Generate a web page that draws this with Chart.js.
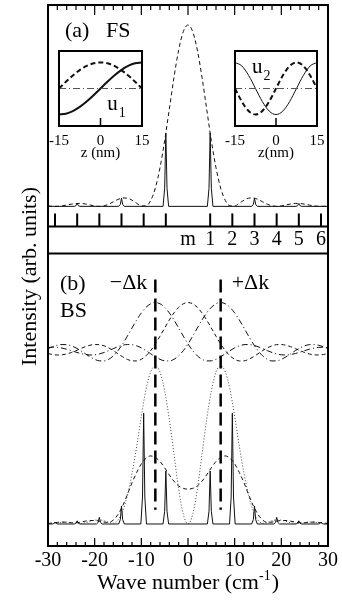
<!DOCTYPE html>
<html>
<head>
<meta charset="utf-8">
<script src="https://cdn.jsdelivr.net/npm/chart.js@4.4.1/dist/chart.umd.min.js"></script>
<style>
  html, body { margin: 0; padding: 0; background: #fff; }
  #wrap { position: relative; width: 342px; height: 606px; }
  #wrap canvas { position: absolute; }
  #mainChart { left: 0; top: 0; }
  #insetU1 { left: 30px; top: 40px; }
  #insetU2 { left: 206px; top: 40px; }
</style>
</head>
<body>
<div id="wrap">
  <canvas id="mainChart" width="342" height="606"></canvas>
  <canvas id="insetU1" width="130" height="125"></canvas>
  <canvas id="insetU2" width="130" height="125"></canvas>
</div>
<script>
// wave number grid (cm^-1)
const waveNumber = [-30, -29, -28, -27, -26, -25, -24, -23, -22, -21, -20, -19, -18, -17, -16, -15,
  -14, -13, -12, -11, -10, -9, -8, -7, -6, -5, -4, -3, -2, -1, 0, 1, 2, 3, 4, 5, 6, 7, 8, 9, 10,
  11, 12, 13, 14, 15, 16, 17, 18, 19, 20, 21, 22, 23, 24, 25, 26, 27, 28, 29, 30];

// (a) FS: envelope and mode lines
const fsEnvelope = [0.0023, 0.0003, 0.0003, 0.0028, 0.0073, 0.0123, 0.0158, 0.0163, 0.0133, 0.0078,
  0.0024, 0.0000, 0.0030, 0.0119, 0.0250, 0.0382, 0.0463, 0.0454, 0.0344, 0.0172, 0.0025, 0.0030,
  0.0324, 0.101, 0.213, 0.363, 0.537, 0.712, 0.862, 0.964, 1.000, 0.964, 0.862, 0.712, 0.537, 0.363,
  0.213, 0.101, 0.0324, 0.0030, 0.0025, 0.0172, 0.0344, 0.0454, 0.0463, 0.0382, 0.0250, 0.0119,
  0.0030, 0.0000, 0.0024, 0.0078, 0.0133, 0.0163, 0.0158, 0.0123, 0.0073, 0.0028, 0.0003, 0.0003, 0.0023];
const fsSpikeX = [-30, -24.35, -24.0, -23.75, -23.5, -23.15, -14.85, -14.5, -14.25, -14.0, -13.65,
  -5.35, -5.0, -4.75, -4.5, -4.15, 4.15, 4.5, 4.75, 5.0, 5.35, 13.65, 14.0, 14.25, 14.5, 14.85,
  23.15, 23.5, 23.75, 24.0, 24.35, 30];
const fsSpikeY = [0, 0, 0.004, 0.016, 0.004, 0, 0, 0.011, 0.045, 0.011, 0, 0, 0.10, 0.405, 0.10, 0,
  0, 0.10, 0.405, 0.10, 0, 0, 0.011, 0.045, 0.011, 0, 0, 0.004, 0.016, 0.004, 0, 0];

// mode ticks and their labels
const modeK = [-28.5, -23.75, -19, -14.25, -9.5, -4.75, 4.75, 9.5, 14.25, 19, 23.75, 28.5];
const modeLabelK = [0, 4.75, 9.5, 14.25, 19, 23.75, 28.5];
const modeLabels = ['m', '1', '2', '3', '4', '5', '6'];

// (b) BS: field amplitudes around -dk, 0, +dk
const bsLeft = [0.042, 0.082, 0.112, 0.127, 0.124, 0.100, 0.057, 0.000, -0.065, -0.129, -0.181,
  -0.212, -0.214, -0.180, -0.108, 0.000, 0.139, 0.300, 0.470, 0.637, 0.784, 0.900, 0.974, 1.000,
  0.974, 0.900, 0.784, 0.637, 0.470, 0.300, 0.139, 0.000, -0.108, -0.180, -0.214, -0.212, -0.181,
  -0.129, -0.065, 0.000, 0.057, 0.100, 0.124, 0.127, 0.112, 0.082, 0.042, 0.000, -0.039, -0.069,
  -0.087, -0.091, -0.081, -0.060, -0.031, 0.000, 0.030, 0.053, 0.067, 0.071, 0.064];
const bsCenter = [-0.060, -0.081, -0.091, -0.087, -0.069, -0.039, 0.000, 0.042, 0.082, 0.112, 0.127,
  0.124, 0.100, 0.057, 0.000, -0.065, -0.129, -0.181, -0.212, -0.214, -0.180, -0.108, 0.000, 0.139,
  0.300, 0.470, 0.637, 0.784, 0.900, 0.974, 1.000, 0.974, 0.900, 0.784, 0.637, 0.470, 0.300, 0.139,
  0.000, -0.108, -0.180, -0.214, -0.212, -0.181, -0.129, -0.065, 0.000, 0.057, 0.100, 0.124, 0.127,
  0.112, 0.082, 0.042, 0.000, -0.039, -0.069, -0.087, -0.091, -0.081, -0.060];
const bsRight = [0.064, 0.071, 0.067, 0.053, 0.030, 0.000, -0.031, -0.060, -0.081, -0.091, -0.087,
  -0.069, -0.039, 0.000, 0.042, 0.082, 0.112, 0.127, 0.124, 0.100, 0.057, 0.000, -0.065, -0.129,
  -0.181, -0.212, -0.214, -0.180, -0.108, 0.000, 0.139, 0.300, 0.470, 0.637, 0.784, 0.900, 0.974,
  1.000, 0.974, 0.900, 0.784, 0.637, 0.470, 0.300, 0.139, 0.000, -0.108, -0.180, -0.214, -0.212,
  -0.181, -0.129, -0.065, 0.000, 0.057, 0.100, 0.124, 0.127, 0.112, 0.082, 0.042];

// (b) BS: intensities
const bsDotted = [0.001, 0.003, 0.007, 0.011, 0.012, 0.009, 0.005, 0.003, 0.008, 0.016, 0.024, 0.026,
  0.020, 0.010, 0.004, 0.025, 0.08, 0.18, 0.32, 0.49, 0.68, 0.85, 0.96, 1.00, 0.96, 0.84, 0.66, 0.44,
  0.22, 0.06, 0, 0.06, 0.22, 0.44, 0.66, 0.84, 0.96, 1.00, 0.96, 0.85, 0.68, 0.49, 0.32, 0.18, 0.08,
  0.025, 0.004, 0.010, 0.020, 0.026, 0.024, 0.016, 0.008, 0.003, 0.005, 0.009, 0.012, 0.011, 0.007,
  0.003, 0.001];
const bsDashed = [0.004, 0.006, 0.010, 0.012, 0.011, 0.008, 0.008, 0.012, 0.018, 0.022, 0.022, 0.018,
  0.012, 0.010, 0.025, 0.06, 0.115, 0.185, 0.26, 0.325, 0.38, 0.415, 0.43, 0.42, 0.395, 0.355, 0.31,
  0.27, 0.24, 0.225, 0.22, 0.225, 0.24, 0.27, 0.31, 0.355, 0.395, 0.42, 0.43, 0.415, 0.38, 0.325, 0.26,
  0.185, 0.115, 0.06, 0.025, 0.010, 0.012, 0.018, 0.022, 0.022, 0.018, 0.012, 0.008, 0.008, 0.011,
  0.012, 0.010, 0.006, 0.004];
const bsSpikeX = [-30, -29.1, -28.75, -28.5, -28.25, -27.9, -24.35, -24.0, -23.75, -23.5, -23.15,
  -19.6, -19.25, -19.0, -18.75, -18.4, -14.85, -14.5, -14.25, -14.0, -13.65, -10.1, -9.75, -9.5,
  -9.25, -8.9, -5.35, -5.0, -4.75, -4.5, -4.15, 4.15, 4.5, 4.75, 5.0, 5.35, 8.9, 9.25, 9.5, 9.75,
  10.1, 13.65, 14.0, 14.25, 14.5, 14.85, 18.4, 18.75, 19.0, 19.25, 19.6, 23.15, 23.5, 23.75, 24.0,
  24.35, 27.9, 28.25, 28.5, 28.75, 29.1, 30];
const bsSpikeY = [0, 0, 0.003, 0.012, 0.003, 0, 0, 0.005, 0.02, 0.005, 0, 0, 0.01, 0.042, 0.01, 0,
  0, 0.028, 0.114, 0.028, 0, 0, 0.17, 0.70, 0.17, 0, 0, 0.08, 0.335, 0.08, 0, 0, 0.08, 0.335, 0.08, 0,
  0, 0.17, 0.70, 0.17, 0, 0, 0.028, 0.114, 0.028, 0, 0, 0.01, 0.042, 0.01, 0, 0, 0.005, 0.02, 0.005, 0,
  0, 0.003, 0.012, 0.003, 0, 0];
const deltaK = 7;

// insets: mode profiles across the well
const insetZ = [-15, -12.5, -10, -7.5, -5, -2.5, 0, 2.5, 5, 7.5, 10, 12.5, 15];
const u1Solid = [-1, -0.966, -0.866, -0.707, -0.5, -0.259, 0, 0.259, 0.5, 0.707, 0.866, 0.966, 1];
const u1Dashed = [0, 0.259, 0.5, 0.707, 0.866, 0.966, 1, 0.966, 0.866, 0.707, 0.5, 0.259, 0];
const u2Solid = [1, 0.866, 0.5, 0, -0.5, -0.866, -1, -0.866, -0.5, 0, 0.5, 0.866, 1];
const u2Dashed = [0, -0.5, -0.866, -1, -0.866, -0.5, 0, 0.5, 0.866, 1, 0.866, 0.5, 0];

const serif = "'Liberation Serif', 'Times New Roman', Times, serif";
Chart.defaults.font.family = serif;
Chart.defaults.color = '#000';

const pts = (xs, ys) => xs.map((x, i) => ({ x: x, y: ys[i] }));

function curve(label, xs, ys, axis, dash, extra) {
  return Object.assign({
    label: label,
    data: pts(xs, ys),
    yAxisID: axis,
    borderColor: '#111',
    borderWidth: 1,
    borderDash: dash,
    pointRadius: 0,
    fill: false,
    cubicInterpolationMode: 'monotone'
  }, extra || {});
}
const straight = { cubicInterpolationMode: 'default', tension: 0 };

// frame, inner ticks, mode band and all the text of the main plot
const framePlugin = {
  id: 'frame',
  afterDraw(chart) {
    const { ctx, chartArea: area, scales } = chart;
    const x = scales.x, yA = scales.yA, band = scales.yBand;
    ctx.save();
    ctx.strokeStyle = '#000';
    ctx.fillStyle = '#000';

    ctx.lineWidth = 1.2;
    x.ticks.forEach(t => {
      const px = x.getPixelForValue(t.value);
      const major = t.value % 10 === 0;
      ctx.beginPath();
      ctx.moveTo(px, area.top);
      ctx.lineTo(px, area.top + (major ? 10 : 5));
      ctx.moveTo(px, area.bottom);
      ctx.lineTo(px, area.bottom - (major ? 8 : 4));
      ctx.stroke();
    });

    ctx.lineWidth = 2;
    modeK.forEach(k => {
      const px = x.getPixelForValue(k);
      ctx.beginPath();
      ctx.moveTo(px, yA.bottom);
      ctx.lineTo(px, yA.bottom - 13);
      ctx.stroke();
    });

    ctx.strokeRect(area.left, area.top, area.right - area.left, area.bottom - area.top);
    [band.top, band.bottom].forEach(y => {
      ctx.beginPath();
      ctx.moveTo(area.left, y);
      ctx.lineTo(area.right, y);
      ctx.stroke();
    });

    ctx.font = '20px ' + serif;
    ctx.textAlign = 'center';
    ctx.textBaseline = 'middle';
    const bandMid = (band.top + band.bottom) / 2;
    modeLabelK.forEach((k, i) => ctx.fillText(modeLabels[i], x.getPixelForValue(k), bandMid));

    ctx.font = '22px ' + serif;
    ctx.textAlign = 'left';
    ctx.fillText('(a)', area.left + 17, area.top + 26);
    ctx.fillText('FS', area.left + 58, area.top + 26);
    ctx.fillText('(b)', area.left + 12, band.bottom + 31);
    ctx.fillText('BS', area.left + 12, band.bottom + 58);
    ctx.textAlign = 'right';
    ctx.fillText('\u2212\u0394k', x.getPixelForValue(-deltaK) - 8, band.bottom + 30);
    ctx.textAlign = 'left';
    ctx.fillText('+\u0394k', x.getPixelForValue(deltaK) + 11, band.bottom + 30);

    // axis titles
    ctx.textBaseline = 'alphabetic';
    ctx.font = '22px ' + serif;
    const main = 'Wave number (cm';
    const wMain = ctx.measureText(main).width;
    ctx.font = '14px ' + serif;
    const wSup = ctx.measureText('-1').width;
    ctx.font = '22px ' + serif;
    const wEnd = ctx.measureText(')').width;
    const cx = (area.left + area.right) / 2;
    let tx = cx - (wMain + wSup + 1 + wEnd) / 2;
    const ty = area.bottom + 43;
    ctx.fillText(main, tx, ty);
    tx += wMain;
    ctx.font = '14px ' + serif;
    ctx.fillText('-1', tx, ty - 9);
    tx += wSup + 1;
    ctx.font = '22px ' + serif;
    ctx.fillText(')', tx, ty);

    ctx.save();
    ctx.translate(36, (area.top + area.bottom) / 2 + 1);
    ctx.rotate(-Math.PI / 2);
    ctx.textAlign = 'center';
    ctx.fillText('Intensity (arb. units)', 0, 0);
    ctx.restore();

    ctx.restore();
  }
};

const dkStyle = Object.assign({ borderWidth: 2.5, borderColor: '#000', clip: false }, straight);

new Chart(document.getElementById('mainChart'), {
  type: 'line',
  data: {
    datasets: [
      curve('FS envelope', waveNumber, fsEnvelope, 'yA', [4, 3]),
      curve('FS modes', fsSpikeX, fsSpikeY, 'yA', [], straight),
      curve('BS field -dk', waveNumber, bsLeft, 'yB1', [6, 3, 1, 3]),
      curve('BS field 0', waveNumber, bsCenter, 'yB1', [4, 3]),
      curve('BS field +dk', waveNumber, bsRight, 'yB1', [6, 3, 1, 3]),
      curve('BS dotted', waveNumber, bsDotted, 'yB2', [1, 2], { borderColor: '#444' }),
      curve('BS dashed', waveNumber, bsDashed, 'yB2', [4, 3]),
      curve('BS modes', bsSpikeX, bsSpikeY, 'yB2', [], straight),
      curve('-dk', [-deltaK, -deltaK], [1.545, 0.09], 'yB2', [13, 6], dkStyle),
      curve('+dk', [deltaK, deltaK], [1.545, 0.09], 'yB2', [13, 6], dkStyle)
    ]
  },
  options: {
    responsive: false,
    animation: false,
    events: [],
    layout: { padding: { left: 48, right: 14, top: 5, bottom: 30 } },
    plugins: { legend: { display: false }, tooltip: { enabled: false } },
    scales: {
      x: {
        type: 'linear', position: 'bottom', min: -30, max: 30,
        grid: { display: false, drawTicks: false },
        border: { display: false },
        ticks: {
          stepSize: 2, autoSkip: false, maxRotation: 0, padding: 3,
          font: { size: 20 },
          callback: v => (v % 10 === 0 ? String(v) : '')
        }
      },
      yB2: { type: 'linear', position: 'left', display: false, stack: 'panels', stackWeight: 183, weight: 1, min: -0.139, max: 1.019 },
      yB1: { type: 'linear', position: 'left', display: false, stack: 'panels', stackWeight: 109, weight: 2, min: -0.25, max: 2.02 },
      yBand: { type: 'linear', position: 'left', display: false, stack: 'panels', stackWeight: 27, weight: 3, min: 0, max: 1 },
      yA: { type: 'linear', position: 'left', display: false, stack: 'panels', stackWeight: 221, weight: 4, min: -0.1105, max: 1.1105 }
    }
  },
  plugins: [framePlugin]
});

// inset box, centre tick and the u label
const insetPlugin = {
  id: 'insetFrame',
  afterDraw(chart, args, opts) {
    const { ctx, chartArea: a, scales: { x, y } } = chart;
    ctx.save();
    ctx.strokeStyle = '#000';
    ctx.fillStyle = '#000';
    ctx.lineWidth = 1.5;
    const p0 = x.getPixelForValue(0);
    ctx.beginPath();
    ctx.moveTo(p0, a.bottom);
    ctx.lineTo(p0, a.bottom - 8);
    ctx.stroke();
    ctx.lineWidth = 2;
    ctx.strokeRect(a.left, a.top, a.right - a.left, a.bottom - a.top);
    const lx = x.getPixelForValue(opts.labelAt[0]);
    const ly = y.getPixelForValue(opts.labelAt[1]);
    ctx.textBaseline = 'alphabetic';
    ctx.font = '21px ' + serif;
    ctx.fillText('u', lx, ly);
    const w = ctx.measureText('u').width;
    ctx.font = '14px ' + serif;
    ctx.fillText(opts.sub, lx + w + 1, ly + 7);
    ctx.restore();
  }
};

function inset(id, solid, dashed, solidWidth, title, sub, labelAt, padRight) {
  new Chart(document.getElementById(id), {
    type: 'line',
    data: {
      datasets: [
        curve('zero', [-15, 15], [0, 0], 'y', [7, 3, 1, 3], Object.assign({ borderColor: '#555' }, straight)),
        curve('dashed', insetZ, dashed, 'y', [5, 3], { borderWidth: 2 }),
        curve('solid', insetZ, solid, 'y', [], { borderWidth: solidWidth })
      ]
    },
    options: {
      responsive: false,
      animation: false,
      events: [],
      layout: { padding: { left: 29, right: padRight, top: 11, bottom: 1 } },
      plugins: { legend: { display: false }, tooltip: { enabled: false }, insetFrame: { sub: sub, labelAt: labelAt } },
      scales: {
        x: {
          type: 'linear', min: -15, max: 15,
          grid: { display: false, drawTicks: false },
          border: { display: false },
          ticks: { stepSize: 15, padding: 6, maxRotation: 0, font: { size: 15 } },
          title: { display: true, text: title, padding: { top: -12, bottom: 2 }, font: { size: 15 } }
        },
        y: { type: 'linear', display: false, min: -1.44, max: 1.44 }
      }
    },
    plugins: [insetPlugin]
  });
}

inset('insetU1', u1Solid, u1Dashed, 2, 'z (nm)', '1', [2.4, -0.84], 18);
inset('insetU2', u2Solid, u2Dashed, 1, 'z(nm)', '2', [-8.8, 0.6], 19);
</script>
</body>
</html>
